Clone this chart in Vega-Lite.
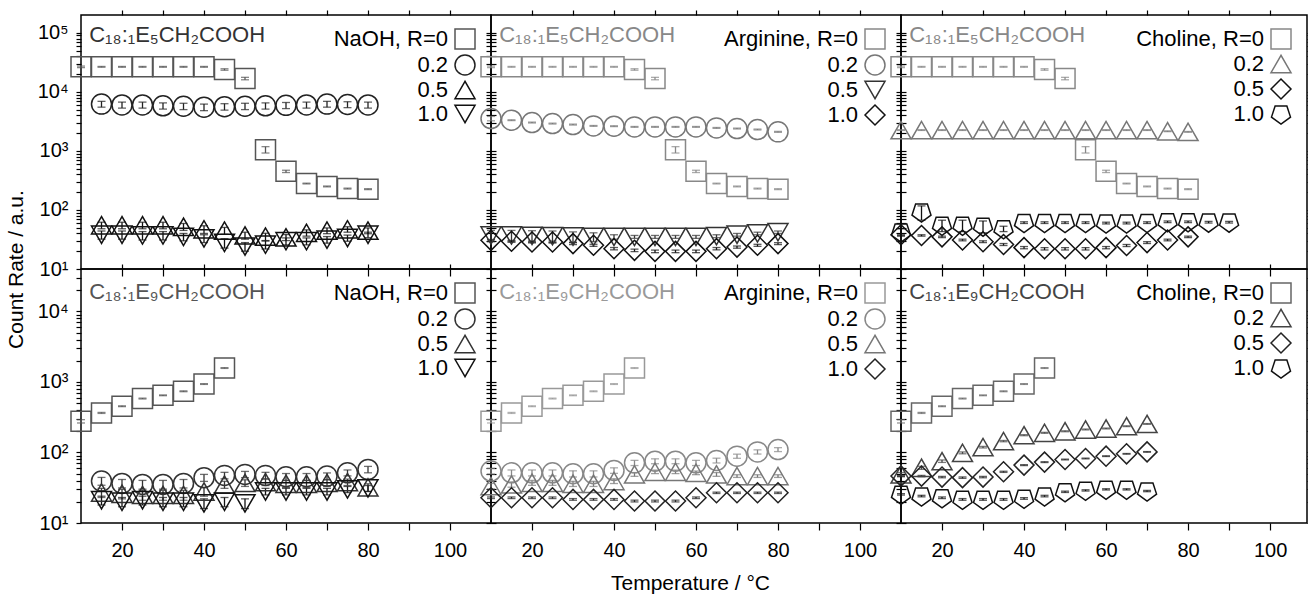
{
"$schema": "https://vega.github.io/schema/vega-lite/v6.json",
"padding": {"left": 4, "top": 8, "right": 0, "bottom": 0},
"config": {
  "font": "Liberation Sans",
  "view": {"stroke": "#000", "strokeWidth": 1.5},
  "axis": {"grid": false, "domain": false, "tickColor": "#000", "tickWidth": 1.2, "labelFontSize": 20, "labelColor": "#000", "labelFont": "Liberation Sans", "titleFont": "Liberation Sans", "titleFontSize": 21, "titleFontWeight": "normal", "titleColor": "#000", "labelOverlap": false, "labelBound": false, "labelFlush": false},
  "legend": {"orient": "top-right", "offset": 13, "padding": 0, "symbolSize": 400, "symbolStrokeWidth": 1.5, "labelFontSize": 22, "labelFont": "Liberation Sans", "labelAlign": "right", "labelOffset": -28, "rowPadding": 0, "labelLimit": 400}
},
"datasets": {
"e5": [
{"b":"all","R":"0","T":10,"v":26500,"e":800},{"b":"all","R":"0","T":15,"v":26500,"e":400},{"b":"all","R":"0","T":20,"v":26500,"e":400},{"b":"all","R":"0","T":25,"v":26500,"e":400},{"b":"all","R":"0","T":30,"v":26500,"e":400},{"b":"all","R":"0","T":35,"v":26500,"e":400},{"b":"all","R":"0","T":40,"v":26500,"e":400},{"b":"all","R":"0","T":45,"v":23900,"e":700},{"b":"all","R":"0","T":50,"v":16800,"e":800},{"b":"all","R":"0","T":55,"v":1050,"e":130},{"b":"all","R":"0","T":60,"v":450,"e":20},{"b":"all","R":"0","T":65,"v":280,"e":4},{"b":"all","R":"0","T":70,"v":250,"e":4},{"b":"all","R":"0","T":75,"v":230,"e":4},{"b":"all","R":"0","T":80,"v":225,"e":4},
{"b":"NaOH","R":"0.2","T":15,"v":6200,"e":700},{"b":"NaOH","R":"0.2","T":20,"v":6000,"e":700},{"b":"NaOH","R":"0.2","T":25,"v":6000,"e":700},{"b":"NaOH","R":"0.2","T":30,"v":5800,"e":700},{"b":"NaOH","R":"0.2","T":35,"v":5700,"e":700},{"b":"NaOH","R":"0.2","T":40,"v":5500,"e":700},{"b":"NaOH","R":"0.2","T":45,"v":5600,"e":700},{"b":"NaOH","R":"0.2","T":50,"v":5700,"e":700},{"b":"NaOH","R":"0.2","T":55,"v":5800,"e":700},{"b":"NaOH","R":"0.2","T":60,"v":5900,"e":700},{"b":"NaOH","R":"0.2","T":65,"v":6000,"e":700},{"b":"NaOH","R":"0.2","T":70,"v":6200,"e":700},{"b":"NaOH","R":"0.2","T":75,"v":6100,"e":700},{"b":"NaOH","R":"0.2","T":80,"v":6000,"e":700},
{"b":"NaOH","R":"0.5","T":15,"v":55,"e":7},{"b":"NaOH","R":"0.5","T":20,"v":55,"e":7},{"b":"NaOH","R":"0.5","T":25,"v":55,"e":7},{"b":"NaOH","R":"0.5","T":30,"v":55,"e":7},{"b":"NaOH","R":"0.5","T":35,"v":52,"e":7},{"b":"NaOH","R":"0.5","T":40,"v":47,"e":7},{"b":"NaOH","R":"0.5","T":45,"v":44.6,"e":6},{"b":"NaOH","R":"0.5","T":50,"v":37,"e":5},{"b":"NaOH","R":"0.5","T":55,"v":35.3,"e":5},{"b":"NaOH","R":"0.5","T":60,"v":34.3,"e":4},{"b":"NaOH","R":"0.5","T":65,"v":41,"e":5},{"b":"NaOH","R":"0.5","T":70,"v":44.6,"e":5},{"b":"NaOH","R":"0.5","T":75,"v":47,"e":5},{"b":"NaOH","R":"0.5","T":80,"v":44.6,"e":5},
{"b":"NaOH","R":"1.0","T":15,"v":38,"e":6},{"b":"NaOH","R":"1.0","T":20,"v":38,"e":6},{"b":"NaOH","R":"1.0","T":25,"v":37,"e":6},{"b":"NaOH","R":"1.0","T":30,"v":37,"e":6},{"b":"NaOH","R":"1.0","T":35,"v":35,"e":5},{"b":"NaOH","R":"1.0","T":40,"v":33,"e":5},{"b":"NaOH","R":"1.0","T":45,"v":27.6,"e":5},{"b":"NaOH","R":"1.0","T":50,"v":24,"e":4},{"b":"NaOH","R":"1.0","T":55,"v":25.8,"e":4},{"b":"NaOH","R":"1.0","T":60,"v":29.6,"e":4},{"b":"NaOH","R":"1.0","T":65,"v":29.6,"e":4},{"b":"NaOH","R":"1.0","T":70,"v":31.4,"e":4},{"b":"NaOH","R":"1.0","T":75,"v":33.5,"e":4},{"b":"NaOH","R":"1.0","T":80,"v":38,"e":4},
{"b":"Arg","R":"0.2","T":10,"v":3530,"e":300},{"b":"Arg","R":"0.2","T":15,"v":3310,"e":50},{"b":"Arg","R":"0.2","T":20,"v":3020,"e":50},{"b":"Arg","R":"0.2","T":25,"v":2900,"e":50},{"b":"Arg","R":"0.2","T":30,"v":2790,"e":50},{"b":"Arg","R":"0.2","T":35,"v":2650,"e":40},{"b":"Arg","R":"0.2","T":40,"v":2620,"e":40},{"b":"Arg","R":"0.2","T":45,"v":2550,"e":40},{"b":"Arg","R":"0.2","T":50,"v":2550,"e":40},{"b":"Arg","R":"0.2","T":55,"v":2550,"e":40},{"b":"Arg","R":"0.2","T":60,"v":2550,"e":40},{"b":"Arg","R":"0.2","T":65,"v":2450,"e":40},{"b":"Arg","R":"0.2","T":70,"v":2390,"e":40},{"b":"Arg","R":"0.2","T":75,"v":2300,"e":40},{"b":"Arg","R":"0.2","T":80,"v":2100,"e":40},
{"b":"Arg","R":"0.5","T":10,"v":37,"e":8},{"b":"Arg","R":"0.5","T":15,"v":37,"e":8},{"b":"Arg","R":"0.5","T":20,"v":36.5,"e":8},{"b":"Arg","R":"0.5","T":25,"v":36,"e":8},{"b":"Arg","R":"0.5","T":30,"v":35.5,"e":7},{"b":"Arg","R":"0.5","T":35,"v":35,"e":6},{"b":"Arg","R":"0.5","T":40,"v":35,"e":3},{"b":"Arg","R":"0.5","T":45,"v":35,"e":2},{"b":"Arg","R":"0.5","T":50,"v":35,"e":2},{"b":"Arg","R":"0.5","T":55,"v":35,"e":2},{"b":"Arg","R":"0.5","T":60,"v":35,"e":2},{"b":"Arg","R":"0.5","T":65,"v":36,"e":2},{"b":"Arg","R":"0.5","T":70,"v":38,"e":2},{"b":"Arg","R":"0.5","T":75,"v":40,"e":2},{"b":"Arg","R":"0.5","T":80,"v":42,"e":2},
{"b":"Arg","R":"1.0","T":10,"v":30.6,"e":1},{"b":"Arg","R":"1.0","T":15,"v":29.5,"e":1},{"b":"Arg","R":"1.0","T":20,"v":28.7,"e":1},{"b":"Arg","R":"1.0","T":25,"v":28.7,"e":1},{"b":"Arg","R":"1.0","T":30,"v":26.9,"e":1},{"b":"Arg","R":"1.0","T":35,"v":25.2,"e":1},{"b":"Arg","R":"1.0","T":40,"v":22.1,"e":1},{"b":"Arg","R":"1.0","T":45,"v":20.7,"e":1},{"b":"Arg","R":"1.0","T":50,"v":19.9,"e":1},{"b":"Arg","R":"1.0","T":55,"v":19.9,"e":1},{"b":"Arg","R":"1.0","T":60,"v":19.9,"e":1},{"b":"Arg","R":"1.0","T":65,"v":22.1,"e":1},{"b":"Arg","R":"1.0","T":70,"v":23.5,"e":1},{"b":"Arg","R":"1.0","T":75,"v":25.2,"e":1},{"b":"Arg","R":"1.0","T":80,"v":26.9,"e":1},
{"b":"Chol","R":"0.2","T":10,"v":2250,"e":30},{"b":"Chol","R":"0.2","T":15,"v":2250,"e":30},{"b":"Chol","R":"0.2","T":20,"v":2250,"e":30},{"b":"Chol","R":"0.2","T":25,"v":2250,"e":30},{"b":"Chol","R":"0.2","T":30,"v":2250,"e":30},{"b":"Chol","R":"0.2","T":35,"v":2250,"e":30},{"b":"Chol","R":"0.2","T":40,"v":2250,"e":30},{"b":"Chol","R":"0.2","T":45,"v":2250,"e":30},{"b":"Chol","R":"0.2","T":50,"v":2250,"e":30},{"b":"Chol","R":"0.2","T":55,"v":2250,"e":30},{"b":"Chol","R":"0.2","T":60,"v":2250,"e":30},{"b":"Chol","R":"0.2","T":65,"v":2250,"e":30},{"b":"Chol","R":"0.2","T":70,"v":2250,"e":30},{"b":"Chol","R":"0.2","T":75,"v":2150,"e":30},{"b":"Chol","R":"0.2","T":80,"v":2100,"e":30},
{"b":"Chol","R":"0.5","T":10,"v":38,"e":1},{"b":"Chol","R":"0.5","T":15,"v":37,"e":1},{"b":"Chol","R":"0.5","T":20,"v":35,"e":1},{"b":"Chol","R":"0.5","T":25,"v":31,"e":1},{"b":"Chol","R":"0.5","T":30,"v":29,"e":1},{"b":"Chol","R":"0.5","T":35,"v":26,"e":1},{"b":"Chol","R":"0.5","T":40,"v":23,"e":1},{"b":"Chol","R":"0.5","T":45,"v":22,"e":1},{"b":"Chol","R":"0.5","T":50,"v":22,"e":1},{"b":"Chol","R":"0.5","T":55,"v":22,"e":1},{"b":"Chol","R":"0.5","T":60,"v":23,"e":1},{"b":"Chol","R":"0.5","T":65,"v":25,"e":1},{"b":"Chol","R":"0.5","T":70,"v":28,"e":1},{"b":"Chol","R":"0.5","T":75,"v":31,"e":1},{"b":"Chol","R":"0.5","T":80,"v":35,"e":1},
{"b":"Chol","R":"1.0","T":10,"v":42,"e":6},{"b":"Chol","R":"1.0","T":15,"v":92,"e":25},{"b":"Chol","R":"1.0","T":20,"v":55,"e":12},{"b":"Chol","R":"1.0","T":25,"v":55,"e":12},{"b":"Chol","R":"1.0","T":30,"v":53,"e":12},{"b":"Chol","R":"1.0","T":35,"v":48,"e":5},{"b":"Chol","R":"1.0","T":40,"v":61,"e":2},{"b":"Chol","R":"1.0","T":45,"v":61,"e":2},{"b":"Chol","R":"1.0","T":50,"v":61,"e":2},{"b":"Chol","R":"1.0","T":55,"v":61,"e":2},{"b":"Chol","R":"1.0","T":60,"v":60,"e":2},{"b":"Chol","R":"1.0","T":65,"v":60,"e":2},{"b":"Chol","R":"1.0","T":70,"v":61,"e":2},{"b":"Chol","R":"1.0","T":75,"v":63,"e":2},{"b":"Chol","R":"1.0","T":80,"v":63,"e":2},{"b":"Chol","R":"1.0","T":85,"v":62,"e":2},{"b":"Chol","R":"1.0","T":90,"v":62,"e":2}
],
"e9": [
{"b":"all","R":"0","T":10,"v":277,"e":15},{"b":"all","R":"0","T":15,"v":364,"e":6},{"b":"all","R":"0","T":20,"v":453,"e":6},{"b":"all","R":"0","T":25,"v":582,"e":8},{"b":"all","R":"0","T":30,"v":647,"e":8},{"b":"all","R":"0","T":35,"v":738,"e":10},{"b":"all","R":"0","T":40,"v":935,"e":12},{"b":"all","R":"0","T":45,"v":1577,"e":20},
{"b":"NaOH","R":"0.2","T":15,"v":39.3,"e":5},{"b":"NaOH","R":"0.2","T":20,"v":36.4,"e":5},{"b":"NaOH","R":"0.2","T":25,"v":35.2,"e":5},{"b":"NaOH","R":"0.2","T":30,"v":35.2,"e":5},{"b":"NaOH","R":"0.2","T":35,"v":36.4,"e":5},{"b":"NaOH","R":"0.2","T":40,"v":43.9,"e":5},{"b":"NaOH","R":"0.2","T":45,"v":47.3,"e":5},{"b":"NaOH","R":"0.2","T":50,"v":48.9,"e":5},{"b":"NaOH","R":"0.2","T":55,"v":47.3,"e":5},{"b":"NaOH","R":"0.2","T":60,"v":45.3,"e":5},{"b":"NaOH","R":"0.2","T":65,"v":45.3,"e":5},{"b":"NaOH","R":"0.2","T":70,"v":46.3,"e":5},{"b":"NaOH","R":"0.2","T":75,"v":51.5,"e":5},{"b":"NaOH","R":"0.2","T":80,"v":57.5,"e":6},
{"b":"NaOH","R":"0.5","T":15,"v":27,"e":4},{"b":"NaOH","R":"0.5","T":20,"v":26,"e":4},{"b":"NaOH","R":"0.5","T":25,"v":25,"e":4},{"b":"NaOH","R":"0.5","T":30,"v":25,"e":4},{"b":"NaOH","R":"0.5","T":35,"v":25,"e":4},{"b":"NaOH","R":"0.5","T":40,"v":28,"e":4},{"b":"NaOH","R":"0.5","T":45,"v":35,"e":4},{"b":"NaOH","R":"0.5","T":50,"v":37,"e":4},{"b":"NaOH","R":"0.5","T":55,"v":38,"e":4},{"b":"NaOH","R":"0.5","T":60,"v":36,"e":4},{"b":"NaOH","R":"0.5","T":65,"v":36,"e":4},{"b":"NaOH","R":"0.5","T":70,"v":37,"e":4},{"b":"NaOH","R":"0.5","T":75,"v":38,"e":4},{"b":"NaOH","R":"0.5","T":80,"v":32,"e":4},
{"b":"NaOH","R":"1.0","T":15,"v":21,"e":3},{"b":"NaOH","R":"1.0","T":20,"v":20,"e":3},{"b":"NaOH","R":"1.0","T":25,"v":21,"e":3},{"b":"NaOH","R":"1.0","T":30,"v":20,"e":3},{"b":"NaOH","R":"1.0","T":35,"v":20,"e":3},{"b":"NaOH","R":"1.0","T":40,"v":19,"e":3},{"b":"NaOH","R":"1.0","T":45,"v":20,"e":3},{"b":"NaOH","R":"1.0","T":50,"v":19,"e":3},{"b":"NaOH","R":"1.0","T":55,"v":28,"e":3},{"b":"NaOH","R":"1.0","T":60,"v":28,"e":3},{"b":"NaOH","R":"1.0","T":65,"v":28,"e":3},{"b":"NaOH","R":"1.0","T":70,"v":28,"e":3},{"b":"NaOH","R":"1.0","T":75,"v":30,"e":3},{"b":"NaOH","R":"1.0","T":80,"v":31,"e":3},
{"b":"Arg","R":"0.2","T":10,"v":54.5,"e":5},{"b":"Arg","R":"0.2","T":15,"v":51.5,"e":5},{"b":"Arg","R":"0.2","T":20,"v":51.5,"e":5},{"b":"Arg","R":"0.2","T":25,"v":51.5,"e":5},{"b":"Arg","R":"0.2","T":30,"v":49.9,"e":5},{"b":"Arg","R":"0.2","T":35,"v":49.9,"e":5},{"b":"Arg","R":"0.2","T":40,"v":55.6,"e":5},{"b":"Arg","R":"0.2","T":45,"v":71.3,"e":6},{"b":"Arg","R":"0.2","T":50,"v":75.3,"e":6},{"b":"Arg","R":"0.2","T":55,"v":75.3,"e":6},{"b":"Arg","R":"0.2","T":60,"v":71.3,"e":6},{"b":"Arg","R":"0.2","T":65,"v":77,"e":6},{"b":"Arg","R":"0.2","T":70,"v":88.7,"e":6},{"b":"Arg","R":"0.2","T":75,"v":102,"e":7},{"b":"Arg","R":"0.2","T":80,"v":110,"e":7},
{"b":"Arg","R":"0.5","T":10,"v":33.4,"e":3},{"b":"Arg","R":"0.5","T":15,"v":35.2,"e":3},{"b":"Arg","R":"0.5","T":20,"v":37.2,"e":3},{"b":"Arg","R":"0.5","T":25,"v":37.2,"e":3},{"b":"Arg","R":"0.5","T":30,"v":36,"e":3},{"b":"Arg","R":"0.5","T":35,"v":36,"e":3},{"b":"Arg","R":"0.5","T":40,"v":39.3,"e":3},{"b":"Arg","R":"0.5","T":45,"v":48.9,"e":3},{"b":"Arg","R":"0.5","T":50,"v":53.2,"e":3},{"b":"Arg","R":"0.5","T":55,"v":53.2,"e":3},{"b":"Arg","R":"0.5","T":60,"v":51.5,"e":3},{"b":"Arg","R":"0.5","T":65,"v":48.9,"e":3},{"b":"Arg","R":"0.5","T":70,"v":46.3,"e":2},{"b":"Arg","R":"0.5","T":75,"v":46.3,"e":2},{"b":"Arg","R":"0.5","T":80,"v":46.3,"e":2},
{"b":"Arg","R":"1.0","T":10,"v":22.8,"e":0.6},{"b":"Arg","R":"1.0","T":15,"v":22.8,"e":0.6},{"b":"Arg","R":"1.0","T":20,"v":22.8,"e":0.6},{"b":"Arg","R":"1.0","T":25,"v":22.8,"e":0.6},{"b":"Arg","R":"1.0","T":30,"v":21.6,"e":0.6},{"b":"Arg","R":"1.0","T":35,"v":21.6,"e":0.6},{"b":"Arg","R":"1.0","T":40,"v":21.6,"e":0.6},{"b":"Arg","R":"1.0","T":45,"v":20.5,"e":0.6},{"b":"Arg","R":"1.0","T":50,"v":20.5,"e":0.6},{"b":"Arg","R":"1.0","T":55,"v":20.5,"e":0.6},{"b":"Arg","R":"1.0","T":60,"v":22.8,"e":0.6},{"b":"Arg","R":"1.0","T":65,"v":26.8,"e":0.6},{"b":"Arg","R":"1.0","T":70,"v":26.8,"e":0.6},{"b":"Arg","R":"1.0","T":75,"v":26.8,"e":0.6},{"b":"Arg","R":"1.0","T":80,"v":26.8,"e":0.6},
{"b":"Chol","R":"0.2","T":10,"v":48.9,"e":3},{"b":"Chol","R":"0.2","T":15,"v":60.7,"e":3},{"b":"Chol","R":"0.2","T":20,"v":75.3,"e":3},{"b":"Chol","R":"0.2","T":25,"v":98.8,"e":3},{"b":"Chol","R":"0.2","T":30,"v":119,"e":3},{"b":"Chol","R":"0.2","T":35,"v":145,"e":3},{"b":"Chol","R":"0.2","T":40,"v":176,"e":3},{"b":"Chol","R":"0.2","T":45,"v":190,"e":3},{"b":"Chol","R":"0.2","T":50,"v":200,"e":3},{"b":"Chol","R":"0.2","T":55,"v":212,"e":3},{"b":"Chol","R":"0.2","T":60,"v":219,"e":3},{"b":"Chol","R":"0.2","T":65,"v":236,"e":3},{"b":"Chol","R":"0.2","T":70,"v":254,"e":3},
{"b":"Chol","R":"0.5","T":10,"v":46.3,"e":1},{"b":"Chol","R":"0.5","T":15,"v":46.3,"e":1},{"b":"Chol","R":"0.5","T":20,"v":44.8,"e":1},{"b":"Chol","R":"0.5","T":25,"v":44,"e":1},{"b":"Chol","R":"0.5","T":30,"v":44.8,"e":1},{"b":"Chol","R":"0.5","T":35,"v":53.2,"e":1},{"b":"Chol","R":"0.5","T":40,"v":66.2,"e":1},{"b":"Chol","R":"0.5","T":45,"v":73,"e":1},{"b":"Chol","R":"0.5","T":50,"v":79.5,"e":1},{"b":"Chol","R":"0.5","T":55,"v":82.2,"e":1},{"b":"Chol","R":"0.5","T":60,"v":88.7,"e":1},{"b":"Chol","R":"0.5","T":65,"v":95.7,"e":1},{"b":"Chol","R":"0.5","T":70,"v":102,"e":1},
{"b":"Chol","R":"1.0","T":10,"v":25.5,"e":0.6},{"b":"Chol","R":"1.0","T":15,"v":24.1,"e":0.6},{"b":"Chol","R":"1.0","T":20,"v":22.8,"e":0.6},{"b":"Chol","R":"1.0","T":25,"v":21.6,"e":0.6},{"b":"Chol","R":"1.0","T":30,"v":21.6,"e":0.6},{"b":"Chol","R":"1.0","T":35,"v":21.6,"e":0.6},{"b":"Chol","R":"1.0","T":40,"v":22.3,"e":0.6},{"b":"Chol","R":"1.0","T":45,"v":24.1,"e":0.6},{"b":"Chol","R":"1.0","T":50,"v":27.7,"e":0.6},{"b":"Chol","R":"1.0","T":55,"v":29,"e":0.6},{"b":"Chol","R":"1.0","T":60,"v":30,"e":0.6},{"b":"Chol","R":"1.0","T":65,"v":30,"e":0.6},{"b":"Chol","R":"1.0","T":70,"v":28.4,"e":0.6}
]
},
"columns": 3, "spacing": 0, "bounds": "flush",
"resolve": {"scale": {"x": "independent", "y": "independent", "shape": "independent", "stroke": "independent", "color": "independent"}},
"concat": [
{
 "width": 410, "height": 254,
 "layer": [
  {"data": {"name": "e5"}, "transform": [{"filter": "datum.b == 'all' || datum.b == 'NaOH'"}],
   "mark": {"type": "errorbar", "ticks": {"size": 8}, "thickness": 1.3},
   "encoding": {
    "x": {"field": "T", "type": "quantitative", "scale": {"domain": [10, 110], "nice": false, "zero": false}, "axis": null},
    "y": {"field": "v", "type": "quantitative", "scale": {"type": "log", "domain": [10, 200000], "nice": false}, "axis": null},
    "yError": {"field": "e"},
    "color": {"field": "R", "type": "nominal", "scale": {"range": ["#555555","#222222","#111111","#111111"]}, "legend": null}}},
  {"data": {"name": "e5"}, "transform": [{"filter": "datum.b == 'all' || datum.b == 'NaOH'"}],
   "mark": {"type": "point", "filled": false, "size": 400, "strokeWidth": 1.5, "opacity": 1},
   "encoding": {
    "x": {"field": "T", "type": "quantitative", "scale": {"domain": [10, 110], "nice": false, "zero": false},
          "axis": {"orient": "bottom", "values": [20,30,40,50,60,70,80,90,100], "labels": false, "title": null, "tickSize": 7, "encode": {"ticks": {"update": {"y": {"value": -8}, "y2": {"signal": "datum.value % 20 == 0 ? 8 : 0"}}}}}},
    "y": {"field": "v", "type": "quantitative", "scale": {"type": "log", "domain": [10, 200000], "nice": false},
          "axis": {"orient": "left", "values": [10,20,30,40,50,60,70,80,90,100,200,300,400,500,600,700,800,900,1000,2000,3000,4000,5000,6000,7000,8000,9000,10000,20000,30000,40000,50000,60000,70000,80000,90000,100000], "labelExpr": "datum.value == 10 ? '10¹' : datum.value == 100 ? '10²' : datum.value == 1000 ? '10³' : datum.value == 10000 ? '10⁴' : datum.value == 100000 ? '10⁵' : ''", "tickSize": 5, "labelPadding": 8, "title": "Count Rate / a.u.", "titleY": 254, "titlePadding": 11, "encode": {"ticks": {"update": {"x": {"signal": "indexof([10,100,1000,10000,100000], datum.value) >= 0 ? 7 : 5"}, "x2": {"signal": "indexof([10,100,1000,10000,100000], datum.value) >= 0 ? -5 : 0"}}}}}},
    "shape": {"field": "R", "type": "nominal", "scale": {"domain": ["0","0.2","0.5","1.0"], "range": ["square","circle","triangle-up","triangle-down"]},
              "legend": {"title": null, "labelExpr": "datum.label == '0' ? 'NaOH, R=0' : datum.label", "encode": {"labels": {"update": {"fill": {"value": "#333333"}}}}}},
    "stroke": {"field": "R", "type": "nominal", "scale": {"domain": ["0","0.2","0.5","1.0"], "range": ["#555555","#222222","#111111","#111111"]},
              "legend": {"title": null, "labelExpr": "datum.label == '0' ? 'NaOH, R=0' : datum.label", "encode": {"labels": {"update": {"fill": {"value": "#333333"}}}}}}}},
  {"data": {"values": [{}]},
   "mark": {"type": "text", "align": "left", "baseline": "middle", "fontSize": 22, "color": "#333333"},
   "encoding": {
    "x": {"datum": 12, "type": "quantitative", "axis": {"orient": "top", "values": [20,30,40,50,60,70,80,90,100], "labels": false, "title": null, "encode": {"ticks": {"update": {"y": {"signal": "datum.value % 20 == 0 ? 8 : 5"}, "y2": {"value": 0}}}}}},
    "y": {"datum": 92000, "type": "quantitative", "axis": {"orient": "right", "values": [10,20,30,40,50,60,70,80,90,100,200,300,400,500,600,700,800,900,1000,2000,3000,4000,5000,6000,7000,8000,9000,10000,20000,30000,40000,50000,60000,70000,80000,90000,100000], "labels": false, "title": null, "encode": {"ticks": {"update": {"x": {"signal": "indexof([10,100,1000,10000,100000], datum.value) >= 0 ? -7 : -5"}, "x2": {"value": 0}}}}}},
    "text": {"value": "C₁₈:₁E₅CH₂COOH"}}}
 ],
 "resolve": {"axis": {"x": "independent", "y": "independent"}}
},
{
 "width": 410, "height": 254,
 "layer": [
  {"data": {"name": "e5"}, "transform": [{"filter": "datum.b == 'all' || datum.b == 'Arg'"}],
   "mark": {"type": "errorbar", "ticks": {"size": 8}, "thickness": 1.3},
   "encoding": {
    "x": {"field": "T", "type": "quantitative", "scale": {"domain": [10, 110], "nice": false, "zero": false}, "axis": null},
    "y": {"field": "v", "type": "quantitative", "scale": {"type": "log", "domain": [10, 200000], "nice": false}, "axis": null},
    "yError": {"field": "e"},
    "color": {"field": "R", "type": "nominal", "scale": {"range": ["#888888","#777777","#333333","#111111"]}, "legend": null}}},
  {"data": {"name": "e5"}, "transform": [{"filter": "datum.b == 'all' || datum.b == 'Arg'"}],
   "mark": {"type": "point", "filled": false, "size": 400, "strokeWidth": 1.5, "opacity": 1},
   "encoding": {
    "x": {"field": "T", "type": "quantitative", "scale": {"domain": [10, 110], "nice": false, "zero": false},
          "axis": {"orient": "bottom", "values": [20,30,40,50,60,70,80,90,100], "labels": false, "title": null, "tickSize": 7, "encode": {"ticks": {"update": {"y": {"value": -8}, "y2": {"signal": "datum.value % 20 == 0 ? 8 : 0"}}}}}},
    "y": {"field": "v", "type": "quantitative", "scale": {"type": "log", "domain": [10, 200000], "nice": false},
          "axis": {"orient": "left", "values": [10,20,30,40,50,60,70,80,90,100,200,300,400,500,600,700,800,900,1000,2000,3000,4000,5000,6000,7000,8000,9000,10000,20000,30000,40000,50000,60000,70000,80000,90000,100000], "labels": false, "title": null, "tickSize": 5, "encode": {"ticks": {"update": {"x": {"signal": "indexof([10,100,1000,10000,100000], datum.value) >= 0 ? 7 : 5"}, "x2": {"signal": "indexof([10,100,1000,10000,100000], datum.value) >= 0 ? -5 : 0"}}}}}},
    "shape": {"field": "R", "type": "nominal", "scale": {"domain": ["0","0.2","0.5","1.0"], "range": ["square","circle","triangle-down","diamond"]},
              "legend": {"title": null, "labelExpr": "datum.label == '0' ? 'Arginine, R=0' : datum.label", "encode": {"labels": {"update": {"fill": [{"test": "datum.value == '0'", "value": "#888888"}, {"test": "datum.value == '0.2'", "value": "#777777"}, {"test": "datum.value == '0.5'", "value": "#444444"}, {"value": "#111111"}]}}}}},
    "stroke": {"field": "R", "type": "nominal", "scale": {"domain": ["0","0.2","0.5","1.0"], "range": ["#888888","#777777","#333333","#111111"]},
              "legend": {"title": null, "labelExpr": "datum.label == '0' ? 'Arginine, R=0' : datum.label", "encode": {"labels": {"update": {"fill": [{"test": "datum.value == '0'", "value": "#888888"}, {"test": "datum.value == '0.2'", "value": "#777777"}, {"test": "datum.value == '0.5'", "value": "#444444"}, {"value": "#111111"}]}}}}}}},
  {"data": {"values": [{}]},
   "mark": {"type": "text", "align": "left", "baseline": "middle", "fontSize": 22, "color": "#888888"},
   "encoding": {
    "x": {"datum": 12, "type": "quantitative", "axis": {"orient": "top", "values": [20,30,40,50,60,70,80,90,100], "labels": false, "title": null, "encode": {"ticks": {"update": {"y": {"signal": "datum.value % 20 == 0 ? 8 : 5"}, "y2": {"value": 0}}}}}},
    "y": {"datum": 92000, "type": "quantitative", "axis": {"orient": "right", "values": [10,20,30,40,50,60,70,80,90,100,200,300,400,500,600,700,800,900,1000,2000,3000,4000,5000,6000,7000,8000,9000,10000,20000,30000,40000,50000,60000,70000,80000,90000,100000], "labels": false, "title": null, "encode": {"ticks": {"update": {"x": {"signal": "indexof([10,100,1000,10000,100000], datum.value) >= 0 ? -7 : -5"}, "x2": {"value": 0}}}}}},
    "text": {"value": "C₁₈:₁E₅CH₂COOH"}}}
 ],
 "resolve": {"axis": {"x": "independent", "y": "independent"}}
},
{
 "width": 406, "height": 254,
 "layer": [
  {"data": {"name": "e5"}, "transform": [{"filter": "datum.b == 'all' || datum.b == 'Chol'"}],
   "mark": {"type": "errorbar", "ticks": {"size": 8}, "thickness": 1.3},
   "encoding": {
    "x": {"field": "T", "type": "quantitative", "scale": {"domain": [10, 109], "nice": false, "zero": false}, "axis": null},
    "y": {"field": "v", "type": "quantitative", "scale": {"type": "log", "domain": [10, 200000], "nice": false}, "axis": null},
    "yError": {"field": "e"},
    "color": {"field": "R", "type": "nominal", "scale": {"range": ["#888888","#777777","#111111","#111111"]}, "legend": null}}},
  {"data": {"name": "e5"}, "transform": [{"filter": "datum.b == 'all' || datum.b == 'Chol'"}],
   "mark": {"type": "point", "filled": false, "size": 400, "strokeWidth": 1.5, "opacity": 1},
   "encoding": {
    "x": {"field": "T", "type": "quantitative", "scale": {"domain": [10, 109], "nice": false, "zero": false},
          "axis": {"orient": "bottom", "values": [20,30,40,50,60,70,80,90,100], "labels": false, "title": null, "tickSize": 7, "encode": {"ticks": {"update": {"y": {"value": -8}, "y2": {"signal": "datum.value % 20 == 0 ? 8 : 0"}}}}}},
    "y": {"field": "v", "type": "quantitative", "scale": {"type": "log", "domain": [10, 200000], "nice": false},
          "axis": {"orient": "left", "values": [10,20,30,40,50,60,70,80,90,100,200,300,400,500,600,700,800,900,1000,2000,3000,4000,5000,6000,7000,8000,9000,10000,20000,30000,40000,50000,60000,70000,80000,90000,100000], "labels": false, "title": null, "tickSize": 5, "encode": {"ticks": {"update": {"x": {"signal": "indexof([10,100,1000,10000,100000], datum.value) >= 0 ? 7 : 5"}, "x2": {"signal": "indexof([10,100,1000,10000,100000], datum.value) >= 0 ? -5 : 0"}}}}}},
    "shape": {"field": "R", "type": "nominal", "scale": {"domain": ["0","0.2","0.5","1.0"], "range": ["square","triangle-up","diamond","M-0.588,-0.809L0.588,-0.809L0.951,0.309L0,1L-0.951,0.309Z"]},
              "legend": {"title": null, "labelExpr": "datum.label == '0' ? 'Choline, R=0' : datum.label", "encode": {"labels": {"update": {"fill": [{"test": "datum.value == '0'", "value": "#888888"}, {"test": "datum.value == '0.2'", "value": "#777777"}, {"value": "#111111"}]}}}}},
    "stroke": {"field": "R", "type": "nominal", "scale": {"domain": ["0","0.2","0.5","1.0"], "range": ["#888888","#777777","#111111","#111111"]},
              "legend": {"title": null, "labelExpr": "datum.label == '0' ? 'Choline, R=0' : datum.label", "encode": {"labels": {"update": {"fill": [{"test": "datum.value == '0'", "value": "#888888"}, {"test": "datum.value == '0.2'", "value": "#777777"}, {"value": "#111111"}]}}}}}}},
  {"data": {"values": [{}]},
   "mark": {"type": "text", "align": "left", "baseline": "middle", "fontSize": 22, "color": "#888888"},
   "encoding": {
    "x": {"datum": 12, "type": "quantitative", "axis": {"orient": "top", "values": [20,30,40,50,60,70,80,90,100], "labels": false, "title": null, "encode": {"ticks": {"update": {"y": {"signal": "datum.value % 20 == 0 ? 8 : 5"}, "y2": {"value": 0}}}}}},
    "y": {"datum": 92000, "type": "quantitative", "axis": {"orient": "right", "values": [10,20,30,40,50,60,70,80,90,100,200,300,400,500,600,700,800,900,1000,2000,3000,4000,5000,6000,7000,8000,9000,10000,20000,30000,40000,50000,60000,70000,80000,90000,100000], "labels": false, "title": null, "encode": {"ticks": {"update": {"x": {"signal": "indexof([10,100,1000,10000,100000], datum.value) >= 0 ? -7 : -5"}, "x2": {"value": 0}}}}}},
    "text": {"value": "C₁₈:₁E₅CH₂COOH"}}}
 ],
 "resolve": {"axis": {"x": "independent", "y": "independent"}}
},
{
 "width": 410, "height": 254,
 "layer": [
  {"data": {"name": "e9"}, "transform": [{"filter": "datum.b == 'all' || datum.b == 'NaOH'"}],
   "mark": {"type": "errorbar", "ticks": {"size": 8}, "thickness": 1.3},
   "encoding": {
    "x": {"field": "T", "type": "quantitative", "scale": {"domain": [10, 110], "nice": false, "zero": false}, "axis": null},
    "y": {"field": "v", "type": "quantitative", "scale": {"type": "log", "domain": [10, 40000], "nice": false}, "axis": null},
    "yError": {"field": "e"},
    "color": {"field": "R", "type": "nominal", "scale": {"range": ["#555555","#333333","#333333","#111111"]}, "legend": null}}},
  {"data": {"name": "e9"}, "transform": [{"filter": "datum.b == 'all' || datum.b == 'NaOH'"}],
   "mark": {"type": "point", "filled": false, "size": 400, "strokeWidth": 1.5, "opacity": 1},
   "encoding": {
    "x": {"field": "T", "type": "quantitative", "scale": {"domain": [10, 110], "nice": false, "zero": false},
          "axis": {"orient": "bottom", "values": [20,30,40,50,60,70,80,90,100], "labelExpr": "datum.value % 20 == 0 ? datum.label : ''", "labelPadding": 10, "title": null, "tickSize": 7, "encode": {"ticks": {"update": {"y": {"value": -8}, "y2": {"signal": "datum.value % 20 == 0 ? 8 : 0"}}}}}},
    "y": {"field": "v", "type": "quantitative", "scale": {"type": "log", "domain": [10, 40000], "nice": false},
          "axis": {"orient": "left", "values": [10,20,30,40,50,60,70,80,90,100,200,300,400,500,600,700,800,900,1000,2000,3000,4000,5000,6000,7000,8000,9000,10000,20000,30000], "labelExpr": "datum.value == 10 ? '10¹' : datum.value == 100 ? '10²' : datum.value == 1000 ? '10³' : datum.value == 10000 ? '10⁴' : ''", "tickSize": 5, "labelPadding": 8, "title": null, "encode": {"ticks": {"update": {"x": {"signal": "indexof([10,100,1000,10000], datum.value) >= 0 ? 7 : 5"}, "x2": {"signal": "indexof([10,100,1000,10000], datum.value) >= 0 ? -5 : 0"}}}}}},
    "shape": {"field": "R", "type": "nominal", "scale": {"domain": ["0","0.2","0.5","1.0"], "range": ["square","circle","triangle-up","triangle-down"]},
              "legend": {"title": null, "labelExpr": "datum.label == '0' ? 'NaOH, R=0' : datum.label", "encode": {"labels": {"update": {"fill": [{"test": "datum.value == '0'", "value": "#555555"}, {"value": "#222222"}]}}}}},
    "stroke": {"field": "R", "type": "nominal", "scale": {"domain": ["0","0.2","0.5","1.0"], "range": ["#555555","#333333","#333333","#111111"]},
              "legend": {"title": null, "labelExpr": "datum.label == '0' ? 'NaOH, R=0' : datum.label", "encode": {"labels": {"update": {"fill": [{"test": "datum.value == '0'", "value": "#555555"}, {"value": "#222222"}]}}}}}}},
  {"data": {"values": [{}]},
   "mark": {"type": "text", "align": "left", "baseline": "middle", "fontSize": 22, "color": "#555555"},
   "encoding": {
    "x": {"datum": 12, "type": "quantitative", "axis": {"orient": "top", "values": [20,30,40,50,60,70,80,90,100], "labels": false, "title": null, "encode": {"ticks": {"update": {"y": {"signal": "datum.value % 20 == 0 ? 8 : 5"}, "y2": {"value": 0}}}}}},
    "y": {"datum": 19000, "type": "quantitative", "axis": {"orient": "right", "values": [10,20,30,40,50,60,70,80,90,100,200,300,400,500,600,700,800,900,1000,2000,3000,4000,5000,6000,7000,8000,9000,10000,20000,30000], "labels": false, "title": null, "encode": {"ticks": {"update": {"x": {"signal": "indexof([10,100,1000,10000], datum.value) >= 0 ? -7 : -5"}, "x2": {"value": 0}}}}}},
    "text": {"value": "C₁₈:₁E₉CH₂COOH"}}}
 ],
 "resolve": {"axis": {"x": "independent", "y": "independent"}}
},
{
 "width": 410, "height": 254,
 "layer": [
  {"data": {"name": "e9"}, "transform": [{"filter": "datum.b == 'all' || datum.b == 'Arg'"}],
   "mark": {"type": "errorbar", "ticks": {"size": 8}, "thickness": 1.3},
   "encoding": {
    "x": {"field": "T", "type": "quantitative", "scale": {"domain": [10, 110], "nice": false, "zero": false}, "axis": null},
    "y": {"field": "v", "type": "quantitative", "scale": {"type": "log", "domain": [10, 40000], "nice": false}, "axis": null},
    "yError": {"field": "e"},
    "color": {"field": "R", "type": "nominal", "scale": {"range": ["#999999","#888888","#777777","#222222"]}, "legend": null}}},
  {"data": {"name": "e9"}, "transform": [{"filter": "datum.b == 'all' || datum.b == 'Arg'"}],
   "mark": {"type": "point", "filled": false, "size": 400, "strokeWidth": 1.5, "opacity": 1},
   "encoding": {
    "x": {"field": "T", "type": "quantitative", "scale": {"domain": [10, 110], "nice": false, "zero": false},
          "axis": {"orient": "bottom", "values": [20,30,40,50,60,70,80,90,100], "labelExpr": "datum.value % 20 == 0 ? datum.label : ''", "labelPadding": 10, "title": "Temperature / °C", "titlePadding": 12, "titleX": 199, "tickSize": 7, "encode": {"ticks": {"update": {"y": {"value": -8}, "y2": {"signal": "datum.value % 20 == 0 ? 8 : 0"}}}}}},
    "y": {"field": "v", "type": "quantitative", "scale": {"type": "log", "domain": [10, 40000], "nice": false},
          "axis": {"orient": "left", "values": [10,20,30,40,50,60,70,80,90,100,200,300,400,500,600,700,800,900,1000,2000,3000,4000,5000,6000,7000,8000,9000,10000,20000,30000], "labels": false, "title": null, "tickSize": 5, "encode": {"ticks": {"update": {"x": {"signal": "indexof([10,100,1000,10000], datum.value) >= 0 ? 7 : 5"}, "x2": {"signal": "indexof([10,100,1000,10000], datum.value) >= 0 ? -5 : 0"}}}}}},
    "shape": {"field": "R", "type": "nominal", "scale": {"domain": ["0","0.2","0.5","1.0"], "range": ["square","circle","triangle-up","diamond"]},
              "legend": {"title": null, "labelExpr": "datum.label == '0' ? 'Arginine, R=0' : datum.label", "encode": {"labels": {"update": {"fill": [{"test": "datum.value == '0'", "value": "#999999"}, {"test": "datum.value == '0.2'", "value": "#888888"}, {"test": "datum.value == '0.5'", "value": "#777777"}, {"value": "#222222"}]}}}}},
    "stroke": {"field": "R", "type": "nominal", "scale": {"domain": ["0","0.2","0.5","1.0"], "range": ["#999999","#888888","#777777","#222222"]},
              "legend": {"title": null, "labelExpr": "datum.label == '0' ? 'Arginine, R=0' : datum.label", "encode": {"labels": {"update": {"fill": [{"test": "datum.value == '0'", "value": "#999999"}, {"test": "datum.value == '0.2'", "value": "#888888"}, {"test": "datum.value == '0.5'", "value": "#777777"}, {"value": "#222222"}]}}}}}}},
  {"data": {"values": [{}]},
   "mark": {"type": "text", "align": "left", "baseline": "middle", "fontSize": 22, "color": "#999999"},
   "encoding": {
    "x": {"datum": 12, "type": "quantitative", "axis": {"orient": "top", "values": [20,30,40,50,60,70,80,90,100], "labels": false, "title": null, "encode": {"ticks": {"update": {"y": {"signal": "datum.value % 20 == 0 ? 8 : 5"}, "y2": {"value": 0}}}}}},
    "y": {"datum": 19000, "type": "quantitative", "axis": {"orient": "right", "values": [10,20,30,40,50,60,70,80,90,100,200,300,400,500,600,700,800,900,1000,2000,3000,4000,5000,6000,7000,8000,9000,10000,20000,30000], "labels": false, "title": null, "encode": {"ticks": {"update": {"x": {"signal": "indexof([10,100,1000,10000], datum.value) >= 0 ? -7 : -5"}, "x2": {"value": 0}}}}}},
    "text": {"value": "C₁₈:₁E₉CH₂COOH"}}}
 ],
 "resolve": {"axis": {"x": "independent", "y": "independent"}}
},
{
 "width": 406, "height": 254,
 "layer": [
  {"data": {"name": "e9"}, "transform": [{"filter": "datum.b == 'all' || datum.b == 'Chol'"}],
   "mark": {"type": "errorbar", "ticks": {"size": 8}, "thickness": 1.3},
   "encoding": {
    "x": {"field": "T", "type": "quantitative", "scale": {"domain": [10, 109], "nice": false, "zero": false}, "axis": null},
    "y": {"field": "v", "type": "quantitative", "scale": {"type": "log", "domain": [10, 40000], "nice": false}, "axis": null},
    "yError": {"field": "e"},
    "color": {"field": "R", "type": "nominal", "scale": {"range": ["#666666","#444444","#222222","#111111"]}, "legend": null}}},
  {"data": {"name": "e9"}, "transform": [{"filter": "datum.b == 'all' || datum.b == 'Chol'"}],
   "mark": {"type": "point", "filled": false, "size": 400, "strokeWidth": 1.5, "opacity": 1},
   "encoding": {
    "x": {"field": "T", "type": "quantitative", "scale": {"domain": [10, 109], "nice": false, "zero": false},
          "axis": {"orient": "bottom", "values": [20,30,40,50,60,70,80,90,100], "labelExpr": "datum.value % 20 == 0 ? datum.label : ''", "labelPadding": 10, "title": null, "tickSize": 7, "encode": {"ticks": {"update": {"y": {"value": -8}, "y2": {"signal": "datum.value % 20 == 0 ? 8 : 0"}}}}}},
    "y": {"field": "v", "type": "quantitative", "scale": {"type": "log", "domain": [10, 40000], "nice": false},
          "axis": {"orient": "left", "values": [10,20,30,40,50,60,70,80,90,100,200,300,400,500,600,700,800,900,1000,2000,3000,4000,5000,6000,7000,8000,9000,10000,20000,30000], "labels": false, "title": null, "tickSize": 5, "encode": {"ticks": {"update": {"x": {"signal": "indexof([10,100,1000,10000], datum.value) >= 0 ? 7 : 5"}, "x2": {"signal": "indexof([10,100,1000,10000], datum.value) >= 0 ? -5 : 0"}}}}}},
    "shape": {"field": "R", "type": "nominal", "scale": {"domain": ["0","0.2","0.5","1.0"], "range": ["square","triangle-up","diamond","M-0.588,-0.809L0.588,-0.809L0.951,0.309L0,1L-0.951,0.309Z"]},
              "legend": {"title": null, "labelExpr": "datum.label == '0' ? 'Choline, R=0' : datum.label", "encode": {"labels": {"update": {"fill": [{"test": "datum.value == '0'", "value": "#666666"}, {"value": "#222222"}]}}}}},
    "stroke": {"field": "R", "type": "nominal", "scale": {"domain": ["0","0.2","0.5","1.0"], "range": ["#666666","#444444","#222222","#111111"]},
              "legend": {"title": null, "labelExpr": "datum.label == '0' ? 'Choline, R=0' : datum.label", "encode": {"labels": {"update": {"fill": [{"test": "datum.value == '0'", "value": "#666666"}, {"value": "#222222"}]}}}}}}},
  {"data": {"values": [{}]},
   "mark": {"type": "text", "align": "left", "baseline": "middle", "fontSize": 22, "color": "#444444"},
   "encoding": {
    "x": {"datum": 12, "type": "quantitative", "axis": {"orient": "top", "values": [20,30,40,50,60,70,80,90,100], "labels": false, "title": null, "encode": {"ticks": {"update": {"y": {"signal": "datum.value % 20 == 0 ? 8 : 5"}, "y2": {"value": 0}}}}}},
    "y": {"datum": 19000, "type": "quantitative", "axis": {"orient": "right", "values": [10,20,30,40,50,60,70,80,90,100,200,300,400,500,600,700,800,900,1000,2000,3000,4000,5000,6000,7000,8000,9000,10000,20000,30000], "labels": false, "title": null, "encode": {"ticks": {"update": {"x": {"signal": "indexof([10,100,1000,10000], datum.value) >= 0 ? -7 : -5"}, "x2": {"value": 0}}}}}},
    "text": {"value": "C₁₈:₁E₉CH₂COOH"}}}
 ],
 "resolve": {"axis": {"x": "independent", "y": "independent"}}
}
]
}
